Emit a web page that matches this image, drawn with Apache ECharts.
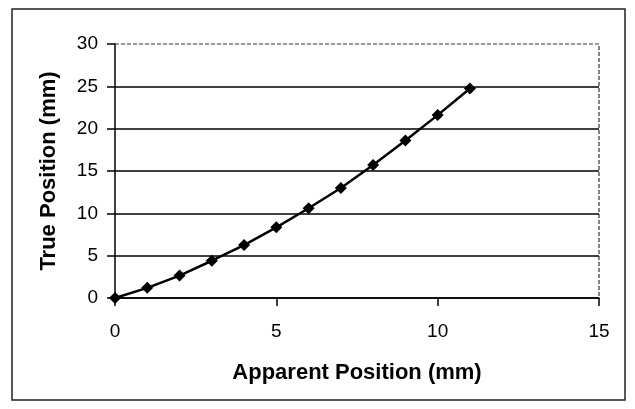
<!DOCTYPE html>
<html style="height: 100%">
<head>
<meta charset="utf-8">
</head>
<body style="height: 100%; margin: 0; background: #fff">
<div id="container" style="width: 635px; height: 409px"></div>
<script type="text/javascript" src="https://cdn.jsdelivr.net/npm/echarts@6/dist/echarts.min.js"></script>
<script type="text/javascript">
// apparent vs true position
var apparent = [0, 1, 2, 3, 4, 5, 6, 7, 8, 9, 10, 11];
var truePos = [0, 1.2, 2.65, 4.4, 6.25, 8.35, 10.6, 13.0, 15.7, 18.6, 21.6, 24.75];

var points = apparent.map(function (x, i) { return [x, truePos[i]]; });

var myChart = echarts.init(document.getElementById('container'));

var font = 'Liberation Sans, Arial, sans-serif';

var option = {
    backgroundColor: '#fff',
    animation: false,
    graphic: [{
        type: 'rect',
        shape: { x: 12, y: 9, width: 613, height: 391 },
        style: { fill: 'none', stroke: '#222', lineWidth: 1.5 }
    }, {
        // dashed top and right edge of plot area
        type: 'polyline',
        shape: { points: [[115, 44], [599, 44], [599, 298]] },
        style: { fill: 'none', stroke: '#333', lineWidth: 1.2, lineDash: [4, 2] }
    }],
    grid: { left: 115, top: 44, width: 484, height: 254 },
    xAxis: {
        type: 'value',
        min: 0, max: 15, interval: 5,
        name: 'Apparent Position (mm)',
        nameLocation: 'middle',
        nameGap: 64,
        nameTextStyle: { fontFamily: font, fontSize: 22, fontWeight: 'bold', color: '#000' },
        axisLine: { show: true, lineStyle: { color: '#000', width: 1.5 } },
        axisTick: { show: true, length: 8, lineStyle: { color: '#000', width: 1.5 } },
        axisLabel: { fontFamily: font, fontSize: 19, color: '#000', margin: 24 },
        splitLine: { show: false }
    },
    yAxis: {
        type: 'value',
        min: 0, max: 30, interval: 5,
        name: 'True Position (mm)',
        nameLocation: 'middle',
        nameGap: 55,
        nameTextStyle: { fontFamily: font, fontSize: 22, fontWeight: 'bold', color: '#000' },
        axisLine: { show: true, lineStyle: { color: '#000', width: 1.5 } },
        axisTick: { show: true, length: 8, lineStyle: { color: '#000', width: 1.5 } },
        axisLabel: { fontFamily: font, fontSize: 19, color: '#000', margin: 17 },
        splitLine: { show: true, showMaxLine: false, lineStyle: { color: '#000', width: 1.5 } }
    },
    series: [{
        type: 'line',
        data: points,
        symbol: 'diamond',
        symbolSize: 12,
        lineStyle: { color: '#000', width: 2.5 },
        itemStyle: { color: '#000' }
    }]
};

myChart.setOption(option, true);
</script>
</body>
</html>
